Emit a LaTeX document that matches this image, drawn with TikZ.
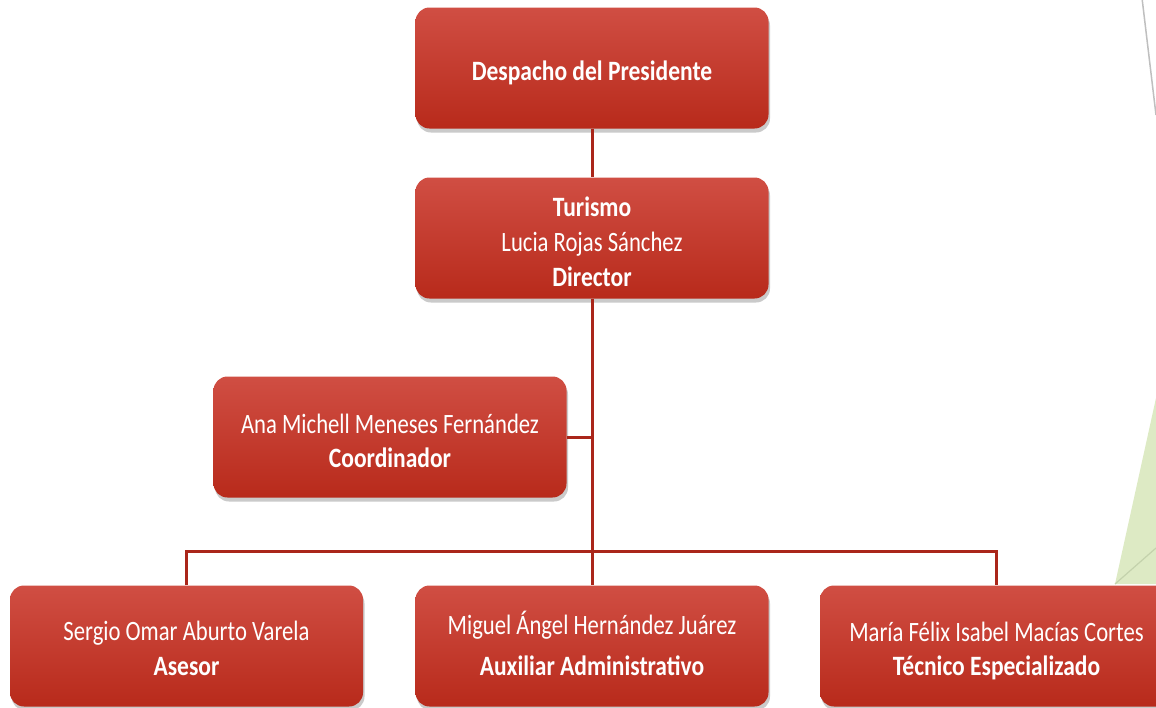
\documentclass[tikz,border=0pt]{standalone}
\usepackage{fontspec}
\setmainfont{Carlito}[UprightFeatures={FakeStretch=0.81}, BoldFeatures={FakeStretch=0.84}]
\usetikzlibrary{shadows}
\definecolor{boxtop}{RGB}{208,78,67}
\definecolor{boxbot}{RGB}{184,42,27}
\definecolor{linecol}{RGB}{170,38,26}
\definecolor{leaf}{RGB}{221,234,196}
\definecolor{leafline}{RGB}{196,210,172}
\newcommand\boxtext[2][-5pt]{\raisebox{#1}[\height][\depth]{\begin{tabular}{@{}c@{}}#2\end{tabular}}}
\tikzset{
  box/.style={rounded corners=14pt, minimum width=353pt, minimum height=121pt,
    top color=boxtop, bottom color=boxbot, draw=none, text=white, align=center,
    inner sep=0pt, font=\fontsize{28}{35}\selectfont,
    drop shadow={shadow xshift=1.5pt, shadow yshift=-4pt, opacity=0.35, fill=black!60}},
  conn/.style={draw=linecol, line width=3pt}
}
\begin{document}
\begin{tikzpicture}[x=1pt,y=-1pt]
\useasboundingbox (0,0) rectangle (1156,707);
% background decoration
\fill[leaf] (1156,398) -- (1115,584) -- (1156,584) -- cycle;
\draw[leafline, line width=1.2pt] (1115,584) -- (1156,548);
\draw[black!25, line width=1.5pt] (1142,-2) -- (1156,115);
\coordinate (bus) at (592,551);
\node[box] (pres) at (592,68) {\boxtext{\textbf{Despacho del Presidente}}};
\node[box] (tur) at (592,238) {\boxtext[-6pt]{\textbf{Turismo}\\Lucia Rojas Sánchez\\\textbf{Director}}};
\node[box] (coord) at (390,437) {\boxtext[-6pt]{Ana Michell Meneses Fernández\\[-1pt]\textbf{Coordinador}}};
\node[box] (a) at (186.5,646) {\boxtext[-5pt]{Sergio Omar Aburto Varela\\\textbf{Asesor}}};
\node[box] (b) at (592,646) {\boxtext[-2pt]{Miguel Ángel Hernández Juárez\\[6pt]\textbf{Auxiliar Administrativo}}};
\node[box] (c) at (996.5,646) {\boxtext[-5pt]{María Félix Isabel Macías Cortes\\[-1pt]\textbf{Técnico Especializado}}};
\draw[conn] (pres.south) -- (tur.north);
\draw[conn] (tur.south) -- (b.north);
\draw[conn] (coord.east) -- (coord.east -| tur.south);
\draw[conn] (a.north) -- (a.north |- bus) -- (c.north |- bus) -- (c.north);
\end{tikzpicture}
\end{document}
